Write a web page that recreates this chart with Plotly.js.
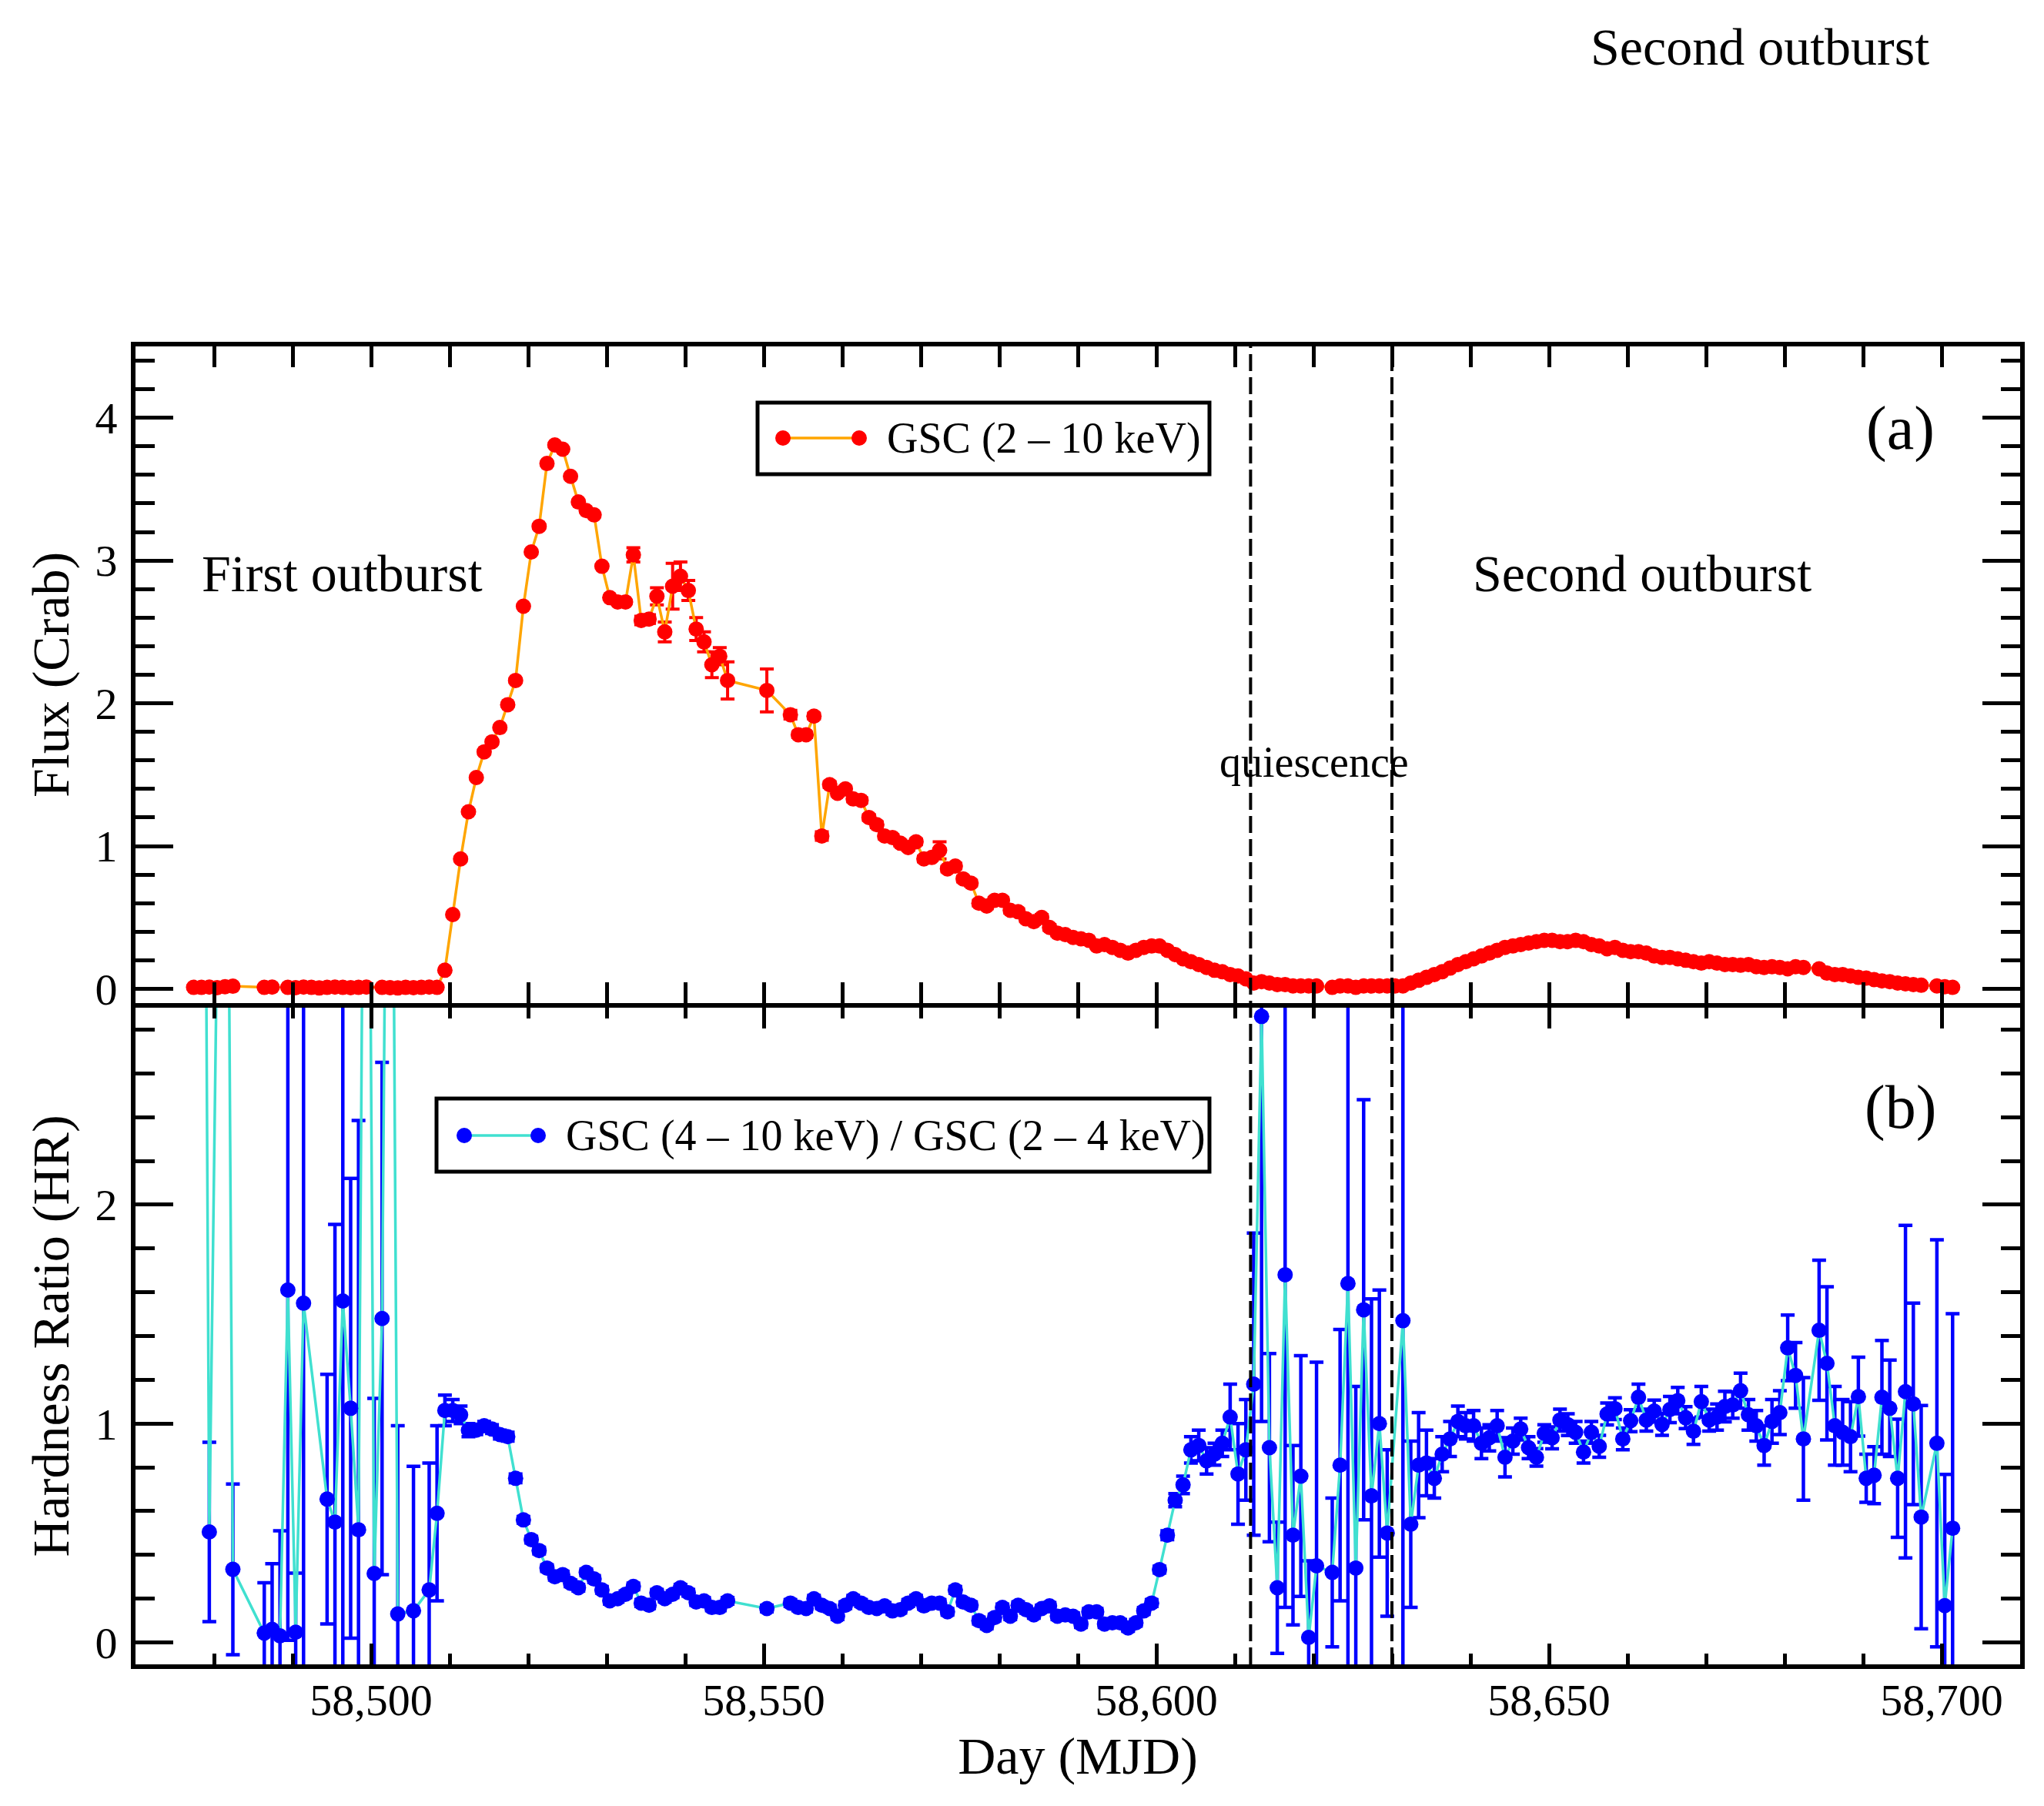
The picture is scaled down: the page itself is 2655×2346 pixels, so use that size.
<!DOCTYPE html>
<html>
<head>
<meta charset="utf-8">
<script src="https://cdn.plot.ly/plotly-3.0.1.min.js"></script>
<style>html,body{margin:0;padding:0;background:#fff;}</style>
</head>
<body>
<div id="chart" style="width:2655px;height:2346px;"></div>
<script>
// ---------------- DATA ----------------
// Panel (a): GSC 2-10 keV flux (Crab)
const fluxDay = [
58477.4,58478.4,58479.4,58480.4,58481.4,58482.4,58486.4,58487.4,
58489.4,58490.4,58491.4,58492.4,58493.4,58494.4,58495.4,58496.4,58497.4,58498.4,58499.4,
58501.4,58502.4,58503.4,58504.4,58505.4,58506.4,58507.4,58508.4,
58509.4,58510.4,58511.4,58512.4,58513.4,58514.4,58515.4,58516.4,58517.4,58518.4,
58519.4,58520.4,58521.4,58522.4,58523.4,58524.4,58525.4,58526.4,58527.4,58528.4,
58529.4,58530.4,58531.4,58532.4,58533.4,58534.4,58535.4,58536.4,58537.4,58538.4,
58539.4,58540.4,58541.4,58542.4,58543.4,58544.4,58545.4,
58550.4,58553.4,58554.4,58555.4,58556.4,58557.4,
58558.4,58559.4,58560.4,58561.4,58562.4,58563.4,58564.4,58565.4,58566.4,58567.4,
58568.4,58569.4,58570.4,58571.4,58572.4,58573.4,58574.4,58575.4,58576.4,58577.4,
58578.4,58579.4,58580.4,58581.4,58582.4,58583.4,58584.4,58585.4,58586.4,58587.4,
58588.4,58589.4,58590.4,58591.4,58592.4,58593.4,58594.4,58595.4,58596.4,58597.4,
58598.4,58599.4,58600.4,58601.4,58602.4,58603.4,58604.4,58605.4,58606.4,58607.4,
58608.4,58609.4,58610.4,58611.4,58612.4,58613.4,58614.4,58615.4,58616.4,58617.4,
58618.4,58619.4,58620.4,
58622.4,58623.4,58624.4,58625.4,58626.4,58627.4,58628.4,58629.4,58630.4,
58631.4,58632.4,58633.4,58634.4,58635.4,58636.4,58637.4,58638.4,58639.4,58640.4,
58641.4,58642.4,58643.4,58644.4,58645.4,58646.4,58647.4,58648.4,58649.4,58650.4,
58651.4,58652.4,58653.4,58654.4,58655.4,58656.4,58657.4,58658.4,58659.4,58660.4,
58661.4,58662.4,58663.4,58664.4,58665.4,58666.4,58667.4,58668.4,58669.4,58670.4,
58671.4,58672.4,58673.4,58674.4,58675.4,58676.4,58677.4,58678.4,58679.4,58680.4,
58681.4,58682.4,
58684.4,58685.4,58686.4,58687.4,58688.4,58689.4,58690.4,58691.4,58692.4,58693.4,
58694.4,58695.4,58696.4,58697.4,
58699.4,58700.4,58701.4
];
const fluxVal = [
0.010,0.010,0.012,0.008,0.015,0.018,0.010,0.012,
0.010,0.008,0.012,0.010,0.006,0.010,0.012,0.010,0.008,0.010,0.012,
0.010,0.008,0.006,0.010,0.008,0.010,0.012,0.010,
0.13,0.52,0.91,1.24,1.48,1.66,1.73,1.83,1.99,2.16,
2.68,3.06,3.24,3.68,3.81,3.78,3.59,3.41,3.35,3.32,
2.96,2.74,2.71,2.71,3.04,2.58,2.59,2.75,2.50,2.82,
2.89,2.79,2.52,2.43,2.27,2.33,2.16,
2.09,1.92,1.78,1.78,1.91,1.07,
1.43,1.37,1.40,1.33,1.32,1.20,1.15,1.07,1.06,1.02,
0.99,1.03,0.91,0.92,0.97,0.84,0.86,0.77,0.74,0.60,
0.58,0.62,0.62,0.55,0.54,0.49,0.47,0.50,0.43,0.39,
0.38,0.36,0.35,0.34,0.30,0.31,0.29,0.27,0.25,0.27,
0.29,0.30,0.30,0.27,0.24,0.21,0.19,0.17,0.15,0.13,
0.12,0.10,0.09,0.07,0.04,0.05,0.04,0.03,0.03,0.02,
0.02,0.02,0.02,
0.01,0.02,0.02,0.01,0.02,0.02,0.02,0.02,0.02,
0.02,0.04,0.06,0.08,0.10,0.12,0.145,0.17,0.19,0.21,
0.23,0.25,0.27,0.29,0.30,0.31,0.32,0.33,0.34,0.34,
0.33,0.33,0.34,0.33,0.31,0.30,0.28,0.29,0.27,0.26,
0.26,0.25,0.23,0.22,0.22,0.21,0.20,0.19,0.18,0.19,
0.18,0.17,0.17,0.165,0.17,0.155,0.15,0.155,0.15,0.14,
0.155,0.15,
0.14,0.11,0.10,0.10,0.09,0.08,0.075,0.065,0.055,0.05,
0.04,0.035,0.03,0.025,
0.02,0.015,0.01
];
const fluxErr = [
0.01,0.01,0.01,0.01,0.01,0.01,0.01,0.01,
0.01,0.01,0.01,0.01,0.01,0.01,0.01,0.01,0.01,0.01,0.01,
0.01,0.01,0.01,0.01,0.01,0.01,0.01,0.01,
0.01,0.01,0.01,0.01,0.01,0.01,0.01,0.01,0.01,0.01,
0.01,0.01,0.01,0.01,0.01,0.01,0.01,0.01,0.01,0.01,
0.01,0.01,0.01,0.01,0.05,0.03,0.03,0.06,0.07,0.16,
0.10,0.07,0.08,0.07,0.09,0.06,0.13,
0.15,0.03,0.02,0.02,0.02,0.03,
0.02,0.02,0.02,0.02,0.02,0.02,0.02,0.02,0.02,0.02,
0.02,0.02,0.02,0.02,0.06,0.02,0.02,0.02,0.02,0.02,
0.02,0.02,0.02,0.02,0.02,0.02,0.02,0.02,0.02,0.02,
0.01,0.01,0.01,0.01,0.01,0.01,0.01,0.01,0.01,0.01,
0.01,0.01,0.01,0.01,0.01,0.01,0.01,0.01,0.01,0.01,
0.01,0.01,0.01,0.01,0.01,0.01,0.01,0.01,0.01,0.01,
0.01,0.01,0.01,
0.01,0.01,0.01,0.01,0.01,0.01,0.01,0.01,0.01,
0.01,0.01,0.01,0.01,0.01,0.01,0.01,0.01,0.01,0.01,
0.01,0.01,0.01,0.01,0.01,0.01,0.01,0.01,0.01,0.01,
0.01,0.01,0.01,0.01,0.01,0.01,0.01,0.01,0.01,0.01,
0.01,0.01,0.01,0.01,0.01,0.01,0.01,0.01,0.01,0.01,
0.01,0.01,0.01,0.01,0.01,0.01,0.01,0.01,0.01,0.01,
0.01,0.01,
0.01,0.01,0.01,0.01,0.01,0.01,0.01,0.01,0.01,0.01,
0.01,0.01,0.01,0.01,
0.01,0.01,0.01
];

// Panel (b): hardness ratio GSC(4-10 keV)/GSC(2-4 keV)
const hrDay = [
58478.4,58479.4,58481.4,58482.4,58486.4,58487.4,58488.4,58489.4,58490.4,58491.4,
58494.4,58495.4,58496.4,58497.4,58498.4,58499.4,58500.4,58501.4,58502.4,58503.4,
58505.4,58507.4,58508.4,
58509.4,58510.4,58511.4,58512.4,58513.4,58514.4,58515.4,58516.4,58517.4,58518.4,
58519.4,58520.4,58521.4,58522.4,58523.4,58524.4,58525.4,58526.4,58527.4,58528.4,
58529.4,58530.4,58531.4,58532.4,58533.4,58534.4,58535.4,58536.4,58537.4,58538.4,
58539.4,58540.4,58541.4,58542.4,58543.4,58544.4,58545.4,
58550.4,58553.4,58554.4,58555.4,58556.4,58557.4,
58558.4,58559.4,58560.4,58561.4,58562.4,58563.4,58564.4,58565.4,58566.4,58567.4,
58568.4,58569.4,58570.4,58571.4,58572.4,58573.4,58574.4,58575.4,58576.4,58577.4,
58578.4,58579.4,58580.4,58581.4,58582.4,58583.4,58584.4,58585.4,58586.4,58587.4,
58588.4,58589.4,58590.4,58591.4,58592.4,58593.4,58594.4,58595.4,58596.4,58597.4,
58598.4,58599.4,58600.4,58601.4,58602.4,58603.4,58604.4,58605.4,58606.4,58607.4,
58608.4,58609.4,58610.4,58611.4,58612.4,58613.4,58614.4,58615.4,58616.4,58617.4,
58618.4,58619.4,58620.4,
58622.4,58623.4,58624.4,58625.4,58626.4,58627.4,58628.4,58629.4,
58631.4,58632.4,58633.4,58634.4,58635.4,58636.4,58637.4,58638.4,58639.4,58640.4,
58641.4,58642.4,58643.4,58644.4,58645.4,58646.4,58647.4,58648.4,58649.4,58650.4,
58651.4,58652.4,58653.4,58654.4,58655.4,58656.4,58657.4,58658.4,58659.4,58660.4,
58661.4,58662.4,58663.4,58664.4,58665.4,58666.4,58667.4,58668.4,58669.4,58670.4,
58671.4,58672.4,58673.4,58674.4,58675.4,58676.4,58677.4,58678.4,58679.4,58680.4,
58681.4,58682.4,
58684.4,58685.4,58686.4,58687.4,58688.4,58689.4,58690.4,58691.4,58692.4,58693.4,
58694.4,58695.4,58696.4,58697.4,
58699.4,58700.4,58701.4
];
const hrVal = [
7.0,0.505,6.0,0.334,0.043,0.06,0.03,1.61,0.047,1.55,
0.655,0.55,1.56,1.07,0.515,6.0,0.315,1.48,6.0,0.13,
0.145,0.24,0.59,
1.06,1.06,1.04,0.97,0.97,0.99,0.975,0.95,0.94,0.75,
0.56,0.47,0.42,0.34,0.30,0.31,0.27,0.25,0.32,0.29,
0.24,0.19,0.20,0.22,0.256,0.18,0.17,0.227,0.20,0.22,
0.25,0.227,0.185,0.19,0.16,0.16,0.19,
0.155,0.18,0.16,0.155,0.20,0.17,
0.155,0.12,0.17,0.20,0.18,0.16,0.155,0.167,0.144,0.15,
0.18,0.20,0.167,0.18,0.18,0.14,0.24,0.185,0.17,0.10,
0.078,0.114,0.16,0.12,0.17,0.15,0.126,0.155,0.167,0.12,
0.126,0.12,0.084,0.14,0.14,0.084,0.09,0.09,0.066,0.09,
0.144,0.18,0.333,0.49,0.65,0.72,0.88,0.90,0.83,0.86,
0.91,1.03,0.77,0.88,1.18,2.86,0.89,0.25,1.68,0.49,
0.76,0.023,0.35,
0.32,0.81,1.64,0.34,1.52,0.67,1.00,0.50,
1.47,0.54,0.81,0.82,0.75,0.86,0.93,1.01,0.99,0.99,
0.91,0.935,0.99,0.846,0.92,0.975,0.89,0.846,0.955,0.935,
1.016,0.995,0.96,0.87,0.96,0.896,1.044,1.068,0.93,1.013,
1.12,1.016,1.057,0.996,1.064,1.105,1.027,0.965,1.10,1.016,
1.03,1.078,1.085,1.15,1.04,0.99,0.90,1.01,1.05,1.346,
1.22,0.93,
1.426,1.275,0.99,0.96,0.94,1.123,0.75,0.764,1.12,1.07,
0.75,1.146,1.09,0.573,
0.91,0.168,0.522
];
const hrErr = [
1.0,0.41,1.0,0.39,0.23,0.30,0.48,1.60,0.27,2.0,
0.57,1.36,2.0,1.05,1.87,1.0,0.80,1.17,1.0,0.86,
0.66,0.58,0.40,
0.07,0.05,0.04,0.03,0.02,0.02,0.02,0.02,0.02,0.02,
0.015,0.015,0.015,0.015,0.015,0.015,0.015,0.015,0.015,0.015,
0.015,0.015,0.015,0.015,0.015,0.015,0.015,0.015,0.015,0.015,
0.015,0.015,0.015,0.015,0.015,0.015,0.015,
0.015,0.015,0.015,0.015,0.015,0.015,
0.015,0.015,0.015,0.015,0.015,0.015,0.015,0.015,0.015,0.015,
0.015,0.015,0.015,0.015,0.015,0.015,0.015,0.015,0.015,0.015,
0.015,0.015,0.015,0.015,0.015,0.015,0.015,0.015,0.015,0.015,
0.015,0.015,0.015,0.015,0.015,0.015,0.015,0.015,0.015,0.015,
0.015,0.015,0.015,0.02,0.03,0.04,0.06,0.07,0.06,0.05,
0.06,0.15,0.23,0.23,0.69,1.85,0.43,0.30,1.52,0.41,
0.55,0.35,0.93,
0.34,0.62,2.0,0.83,0.96,0.90,0.61,0.38,
2.0,0.38,0.24,0.15,0.09,0.08,0.08,0.07,0.06,0.07,
0.07,0.06,0.07,0.09,0.06,0.05,0.05,0.04,0.04,0.05,
0.05,0.05,0.05,0.05,0.05,0.05,0.05,0.05,0.05,0.05,
0.06,0.05,0.05,0.05,0.06,0.06,0.05,0.06,0.07,0.05,
0.06,0.07,0.06,0.08,0.07,0.07,0.09,0.10,0.10,0.15,
0.15,0.28,
0.32,0.35,0.18,0.15,0.16,0.18,0.11,0.13,0.26,0.22,
0.27,0.76,0.46,0.51,
0.93,0.60,0.98
];

const xTickLabelsStep = 50;          // 58,500 ... 58,700
const boundaryDays = [58612, 58630]; // dashed lines (quiescence)
const fluxLegend = 'GSC (2 \u2013 10 keV)';
const hrLegend = 'GSC (4 \u2013 10 keV) / GSC (2 \u2013 4 keV)';

// ---------------- STYLE ----------------
const FONT = 'Liberation Serif, Times New Roman, serif';
const RED = '#ff0000', ORANGE = '#ffa500', BLUE = '#0000ff', TURQ = '#40e0d0';

const traces = [
  {
    x: fluxDay, y: fluxVal, xaxis: 'x', yaxis: 'y2',
    type: 'scatter', mode: 'lines+markers', name: fluxLegend,
    line: {color: ORANGE, width: 3.5},
    marker: {color: RED, size: 20},
    error_y: {type: 'data', array: fluxErr, visible: true, color: RED, thickness: 4, width: 9},
    cliponaxis: true
  },
  {
    x: hrDay, y: hrVal, xaxis: 'x', yaxis: 'y',
    type: 'scatter', mode: 'lines+markers', name: hrLegend,
    line: {color: TURQ, width: 3.5},
    marker: {color: BLUE, size: 20},
    error_y: {type: 'data', array: hrErr, visible: true, color: BLUE, thickness: 4.5, width: 9},
    cliponaxis: true
  }
];

const L = 176, R = 31, T = 450, B = 184, W = 2655, H = 2346;
const PW = W - L - R, PH = H - T - B;
const LW = 6;                       // frame line width
const px = v => (v - L) / PW;      // pixel -> paper x
const py = v => (H - B - v) / PH;  // pixel -> paper y
const halfGap = (LW / 2) / PH;      // so the two middle frame lines coincide

const yCommon = {
  anchor: 'x', tick0: 0, dtick: 1, ticks: 'inside', ticklen: 49, tickwidth: 5, tickcolor: '#000',
  showline: true, linewidth: LW, linecolor: '#000', mirror: 'allticks',
  showgrid: false, zeroline: false,
  tickfont: {family: FONT, size: 58, color: '#000'},
  ticklabelstandoff: 6,
  minor: {dtick: 0.2, tick0: 0, ticks: 'inside', ticklen: 25, tickwidth: 5, tickcolor: '#000', showgrid: false}
};

const shapes = [];
boundaryDays.forEach(d => shapes.push({
  type: 'line', xref: 'x', yref: 'paper', x0: d, x1: d, y0: 0, y1: 1,
  line: {color: '#000', width: 4, dash: '22px,8px'}
}));
// legend boxes + glyphs
function legendGlyph(boxPx, m1, m2, yc, lineColor, markColor) {
  shapes.push({type: 'rect', xref: 'paper', yref: 'paper',
    x0: px(boxPx[0]), x1: px(boxPx[1]), y0: py(boxPx[3]), y1: py(boxPx[2]),
    line: {color: '#000', width: 5}, fillcolor: 'rgba(255,255,255,0)'});
  shapes.push({type: 'line', xref: 'paper', yref: 'paper',
    x0: px(m1), x1: px(m2), y0: py(yc), y1: py(yc), line: {color: lineColor, width: 3.5}});
  [m1, m2].forEach(m => shapes.push({type: 'circle', xref: 'paper', yref: 'paper',
    xsizemode: 'pixel', ysizemode: 'pixel', xanchor: px(m), yanchor: py(yc),
    x0: -10, x1: 10, y0: -10, y1: 10, fillcolor: markColor, line: {width: 0}}));
}
legendGlyph([984, 1571, 523, 616], 1017, 1116, 569, ORANGE, RED);
legendGlyph([567, 1571, 1427, 1522], 603, 699, 1475, TURQ, BLUE);

function ann(text, xpix, ypix, size, xanchor) {
  return {text: text, xref: 'paper', yref: 'paper', x: px(xpix), y: py(ypix),
    xanchor: xanchor || 'center', yanchor: 'middle', showarrow: false,
    font: {family: FONT, size: size, color: '#000'}};
}
const annotations = [
  ann('Second outburst', 2286, 61, 68),
  ann('First outburst', 444, 745, 68),
  ann('Second outburst', 2133, 745, 68),
  ann('quiescence', 1707, 990, 56),
  ann('(a)', 2468, 556, 80),
  ann('(b)', 2468, 1438, 80),
  ann(fluxLegend, 1150, 569, 56, 'left'),
  ann(hrLegend, 733, 1475, 56, 'left')
];

const layout = {
  width: W, height: H,
  margin: {l: L, r: R, t: T, b: B, pad: 0},
  paper_bgcolor: '#fff', plot_bgcolor: '#fff',
  showlegend: false,
  font: {family: FONT, size: 58, color: '#000'},
  xaxis: {
    domain: [0, 1], anchor: 'y', range: [58470, 58710],
    tickmode: 'linear', tick0: 58500, dtick: xTickLabelsStep, tickformat: ',d',
    ticks: 'inside', ticklen: 27, tickwidth: 5, tickcolor: '#000',
    showline: true, linewidth: LW, linecolor: '#000', mirror: 'allticks',
    showgrid: false, zeroline: false,
    tickfont: {family: FONT, size: 58, color: '#000'},
    ticklabelstandoff: -10,
    minor: {dtick: 10, tick0: 58500, ticks: 'inside', ticklen: 14, tickwidth: 5, tickcolor: '#000', showgrid: false},
    title: {text: 'Day (MJD)', font: {family: FONT, size: 68, color: '#000'}, standoff: 19}
  },
  yaxis: Object.assign({}, yCommon, {
    domain: [0, 0.5 - halfGap], range: [-0.1, 2.9],
    title: {text: 'Hardness Ratio (HR)', font: {family: FONT, size: 68, color: '#000'}, standoff: 14}
  }),
  yaxis2: Object.assign({}, yCommon, {
    domain: [0.5 + halfGap, 1], range: [-0.1, 4.5],
    title: {text: 'Flux (Crab)', font: {family: FONT, size: 68, color: '#000'}, standoff: 14}
  }),
  shapes: shapes,
  annotations: annotations
};

Plotly.newPlot('chart', traces, layout, {displayModeBar: false, staticPlot: true});
</script>
</body>
</html>
